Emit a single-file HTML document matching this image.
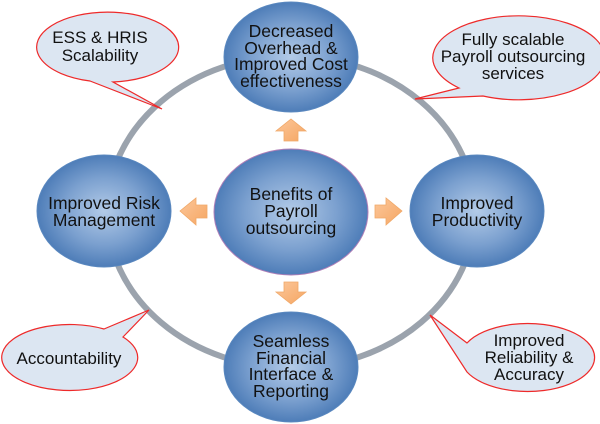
<!DOCTYPE html>
<html><head><meta charset="utf-8"><style>
html,body{margin:0;padding:0;background:#fff;}
svg{display:block;font-family:"Liberation Sans",Arial,sans-serif;}
</style></head><body>
<svg width="600" height="424" viewBox="0 0 600 424" xmlns="http://www.w3.org/2000/svg">
<defs>
<radialGradient id="g" cx="50%" cy="50%" r="50%">
<stop offset="0" stop-color="#b3cbe8"/>
<stop offset="0.6" stop-color="#7ba0cf"/>
<stop offset="1" stop-color="#4e7db8"/>
</radialGradient>
<linearGradient id="o" x1="0" y1="0" x2="1" y2="1">
<stop offset="0" stop-color="#fcc79a"/>
<stop offset="1" stop-color="#f5a663"/>
</linearGradient>
</defs>
<ellipse cx="291" cy="212" rx="184" ry="156" fill="none" stroke="#9ba3ad" stroke-width="6"/>

<g fill="#dce6f2" stroke="#ee2a2a" stroke-width="1.2">
<path d="M90,81 L162,109 L113,82 A71,35 0 1 0 90,81 Z"/>
<path d="M459,88 L415,99 L483,96 A86,42 0 1 0 459,88 Z"/>
<path d="M104,329 L149,310 L123,337 A68,33 0 1 1 104,329 Z"/>
<path d="M467,343 L430,315 L467,372 A67,34 0 1 0 467,343 Z"/>
</g>
<g font-size="17" fill="#111" text-anchor="middle">
<text x="100" y="43">ESS &amp; HRIS</text>
<text x="100" y="61">Scalability</text>
<text x="513" y="45">Fully scalable</text>
<text x="513" y="62">Payroll outsourcing</text>
<text x="513" y="79">services</text>
<text x="69" y="364">Accountability</text>
<text x="529" y="346">Improved</text>
<text x="529" y="363">Reliability &amp;</text>
<text x="529" y="380">Accuracy</text>
</g>

<g fill="url(#o)" stroke="#f0a868" stroke-width="0.8">
<path d="M284,141 L298,141 L298,131 L306,131 L291,119 L276,131 L284,131 Z"/>
<path d="M284,282 L298,282 L298,292 L306,292 L291,304 L276,292 L284,292 Z"/>
<path d="M207,205 L207,218 L196,218 L196,225 L180,211 L196,198 L196,205 Z"/>
<path d="M375,205 L375,218 L386,218 L386,225 L402,211 L386,198 L386,205 Z"/>
</g>

<g fill="url(#g)" stroke="#5a88bf" stroke-width="1">
<ellipse cx="291" cy="57" rx="67" ry="55"/>
<ellipse cx="104" cy="211" rx="67" ry="56"/>
<ellipse cx="477" cy="211" rx="67" ry="56"/>
<ellipse cx="291" cy="367" rx="67" ry="55"/>
<ellipse cx="291" cy="212" rx="77" ry="63" stroke="#b07fb8"/>
</g>
<g font-size="17.5" fill="#111" text-anchor="middle">
<text x="291" y="37">Decreased</text>
<text x="291" y="54">Overhead &amp;</text>
<text x="291" y="70">Improved Cost</text>
<text x="291" y="87">effectiveness</text>
<text x="291" y="200">Benefits of</text>
<text x="291" y="217">Payroll</text>
<text x="291" y="234">outsourcing</text>
<text x="104" y="209">Improved Risk</text>
<text x="104" y="226">Management</text>
<text x="477" y="209">Improved</text>
<text x="477" y="226">Productivity</text>
<text x="291" y="347">Seamless</text>
<text x="291" y="364">Financial</text>
<text x="291" y="380">Interface &amp;</text>
<text x="291" y="397">Reporting</text>
</g>
</svg>
</body></html>
